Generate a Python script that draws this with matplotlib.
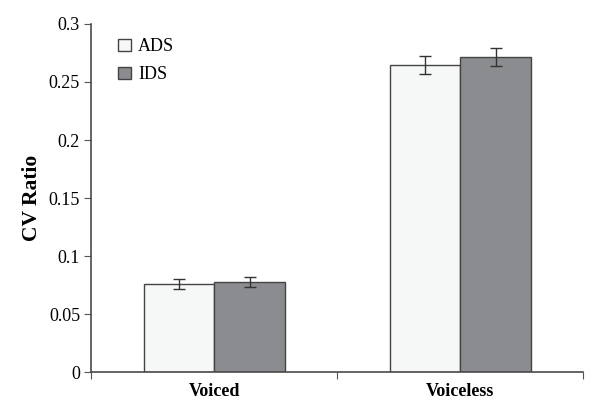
import numpy as np
import matplotlib.pyplot as plt
from matplotlib.patches import Patch

plt.rcParams['font.family'] = ['Liberation Serif', 'DejaVu Serif']

categories = ["Voiced", "Voiceless"]
ads = [0.0759, 0.2644]
ids = [0.0778, 0.2713]
ads_err = [0.0043, 0.0078]
ids_err = [0.0043, 0.0076]

fig = plt.figure(figsize=(6, 4.13), dpi=100)
ax = fig.add_axes([0.152, 0.099, 0.820, 0.843])

x = np.arange(len(categories))
w = 0.287
edge = "#444444"
ax.bar(x - w / 2, ads, w, color="#f6f7f7", edgecolor=edge, linewidth=1.0, label="ADS")
ax.bar(x + w / 2, ids, w, color="#8b8c8f", edgecolor=edge, linewidth=1.0, label="IDS")
ax.errorbar(x - w / 2, ads, yerr=ads_err, fmt="none", ecolor="#333333", elinewidth=1.0, capsize=4, capthick=1.0)
ax.errorbar(x + w / 2, ids, yerr=ids_err, fmt="none", ecolor="#333333", elinewidth=1.0, capsize=4, capthick=1.0)

ax.set_xlim(-0.5, 1.5)
ax.set_ylim(0, 0.3)
ax.set_yticks([0, 0.05, 0.1, 0.15, 0.2, 0.25, 0.3])
ax.set_yticklabels(["0", "0.05", "0.1", "0.15", "0.2", "0.25", "0.3"], fontsize=13)
ax.set_xticks([-0.5, 0.5, 1.5])
ax.set_xticklabels([])
ax.set_xticks(x, minor=True)
ax.set_xticklabels(categories, minor=True, fontsize=13, fontweight="bold")
ax.tick_params(axis="x", which="minor", length=0, pad=8)
ax.tick_params(axis="x", which="major", length=5, color="#555555", direction="out")
ax.tick_params(axis="y", length=5, color="#555555", direction="out", pad=3)

for s in ["top", "right"]:
    ax.spines[s].set_visible(False)
for s in ["left", "bottom"]:
    ax.spines[s].set_color("#4a4a4a")
    ax.spines[s].set_linewidth(1.2)

ax.set_ylabel("CV Ratio", fontsize=15.5, fontweight="bold", labelpad=5)

handles = [Patch(facecolor="#f6f7f7", edgecolor=edge, label="ADS"),
           Patch(facecolor="#8b8c8f", edgecolor=edge, label="IDS")]
ax.legend(handles=handles, loc="upper left", bbox_to_anchor=(0.022, 1.005), frameon=False,
          fontsize=13, handlelength=0.7, handleheight=0.7, handletextpad=0.4, labelspacing=0.6)

fig.savefig("out.png", dpi=100)
